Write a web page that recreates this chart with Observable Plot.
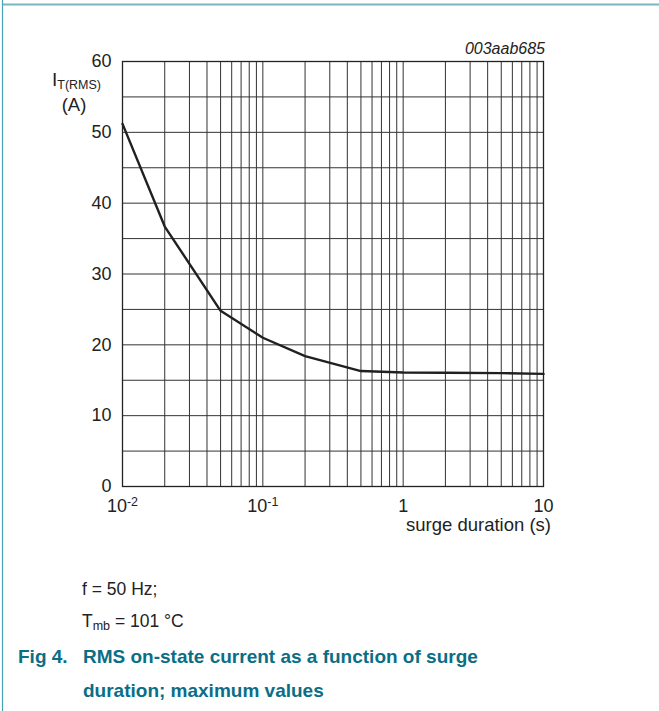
<!DOCTYPE html>
<html><head><meta charset="utf-8">
<script src="https://cdn.jsdelivr.net/npm/d3@7"></script>
<script src="https://cdn.jsdelivr.net/npm/@observablehq/plot@0.6"></script>
<style>
html,body{margin:0;padding:0;background:#fff;}
#wrap{position:relative;width:659px;height:711px;overflow:hidden;}
</style></head><body><div id="wrap"></div>
<script>
// ---- data ----
const duration = [0.01, 0.02, 0.05, 0.1, 0.2, 0.5, 1, 2, 5, 10];
const current  = [51.2, 36.7, 24.8, 21.0, 18.4, 16.3, 16.1, 16.05, 16.0, 15.9];
const xTicks = [0.01, 0.1, 1, 10];
const xTickLabels = ["10^-2", "10^-1", "1", "10"];
const yTicks = [0, 10, 20, 30, 40, 50, 60];
const yGrid = [0, 5, 10, 15, 20, 25, 30, 35, 40, 45, 50, 55, 60];
const decades = [0.01, 0.1, 1];
const multipliers = [1, 2, 3, 4, 5, 6, 7, 8, 9];
const xGrid = decades.flatMap(d => multipliers.map(m => +(d * m).toPrecision(6))).concat([10]);

const data = duration.map((d, i) => ({duration: d, current: current[i]}));
const labelOf = new Map(xTicks.map((t, i) => [t, xTickLabels[i]]));

const FONT = "'Liberation Sans', Arial, Helvetica, sans-serif";
const TEAL = "#0a6e86";
const INK = "#222";

const chart = Plot.plot({
  width: 659, height: 711,
  marginLeft: 122, marginRight: 116, marginTop: 61, marginBottom: 225,
  style: {fontFamily: FONT, color: INK, background: "#fff", overflow: "visible"},
  x: {type: "log", domain: [0.01, 10]},
  y: {domain: [0, 60]},
  marks: [
    Plot.ruleX(xGrid, {stroke: "#333", strokeWidth: 1, strokeOpacity: 1}),
    Plot.ruleY(yGrid, {stroke: "#333", strokeWidth: 1, strokeOpacity: 1}),
    Plot.frame({stroke: INK, strokeWidth: 1.3}),
    Plot.axisX(xTicks, {tickFormat: d => labelOf.get(d) ?? "", tickSize: 0, tickPadding: 13, fontSize: 18, label: null, fill: INK}),
    Plot.axisY(yTicks, {tickSize: 0, tickPadding: 11, fontSize: 18, label: null, fill: INK}),
    Plot.line(data, {x: "duration", y: "current", stroke: "#231f20", strokeWidth: 2.4, strokeLinejoin: "miter"})
  ]
});

document.getElementById("wrap").appendChild(chart);
const svg = d3.select(chart);

// superscript exponents on x tick labels
svg.selectAll('g[aria-label="x-axis tick label"] text').each(function() {
  const t = d3.select(this);
  const s = t.text();
  if (s.includes("^")) {
    const [base, exp] = s.split("^");
    t.text(null);
    t.append("tspan").text(base);
    t.append("tspan").attr("font-size", "12.5px").attr("dy", "-0.5em").text(exp);
  }
});

// page frame lines
svg.append("line").attr("x1", 2.5).attr("x2", 2.5).attr("y1", 0).attr("y2", 711).attr("stroke", "#4aa3b5").attr("stroke-width", 1.2);
svg.append("line").attr("x1", 3).attr("x2", 659).attr("y1", 4.5).attr("y2", 4.5).attr("stroke", "#7ab5c2").attr("stroke-width", 2);

const g = svg.append("g").attr("font-family", FONT).attr("fill", INK).attr("text-anchor", "start");

// figure id
g.append("text").attr("x", 545).attr("y", 54).attr("text-anchor", "end").attr("font-style", "italic").attr("font-size", "16px").text("003aab685");

// y label
const yl = g.append("text").attr("x", 52).attr("y", 86).attr("font-size", "19px");
yl.append("tspan").text("I");
yl.append("tspan").attr("font-size", "12.5px").attr("dy", "3").text("T(RMS)");
g.append("text").attr("x", 74).attr("y", 111).attr("text-anchor", "middle").attr("font-size", "18.5px").text("(A)");

// x label
g.append("text").attr("x", 551).attr("y", 531).attr("text-anchor", "end").attr("font-size", "18.5px").text("surge duration (s)");

// notes
g.append("text").attr("x", 82).attr("y", 595).attr("font-size", "17.5px").text("f = 50 Hz;");
const tn = g.append("text").attr("x", 82).attr("y", 627).attr("font-size", "17.5px");
tn.append("tspan").text("T");
tn.append("tspan").attr("font-size", "12.5px").attr("dy", "3").text("mb");
tn.append("tspan").attr("dy", "-3").text(" = 101 \u00B0C");

// caption
const cap = svg.append("g").attr("font-family", FONT).attr("font-weight", "bold").attr("fill", TEAL).attr("font-size", "19px").attr("text-anchor", "start");
cap.append("text").attr("x", 18).attr("y", 663).text("Fig 4.");
cap.append("text").attr("x", 83).attr("y", 663).text("RMS on-state current as a function of surge");
cap.append("text").attr("x", 83).attr("y", 697).text("duration; maximum values");
</script></body></html>
